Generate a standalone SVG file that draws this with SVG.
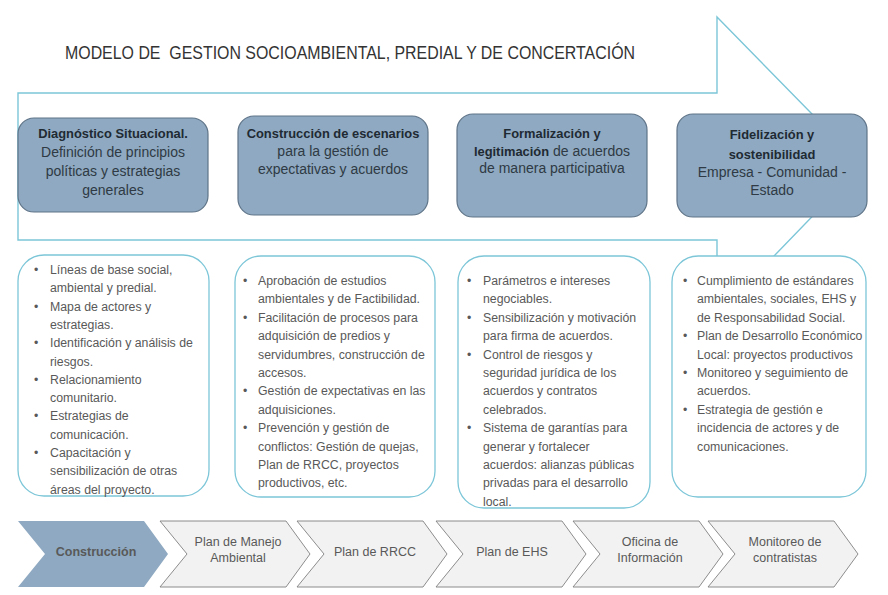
<svg xmlns="http://www.w3.org/2000/svg" width="888" height="595" viewBox="0 0 888 595">
<style>
  text { font-family: "Liberation Sans", Arial, sans-serif; }
  .title { font-size: 18px; fill: #333333; white-space: pre; }
  .phase { fill: #8ea9c1; stroke: #5f7488; stroke-width: 1.2; }
  .ph { font-size: 14px; fill: #2f3a44; text-anchor: middle; }
  .phb { font-size: 12.9px; font-weight: bold; fill: #1f2a33; text-anchor: middle; }
  .detail { fill: #ffffff; stroke: #7cc6d8; stroke-width: 1.3; }
  .dt { font-size: 12.3px; fill: #595959; }
  .chev { fill: #f2f2f2; stroke: #808080; stroke-width: 0.9; }
  .chev-on { fill: #8ea9c1; stroke: none; }
  .ct { font-size: 12.5px; fill: #595959; text-anchor: middle; }
  .outline { fill: #ffffff; stroke: #7cc6d8; stroke-width: 1.4; }
</style>

<rect x="0" y="0" width="888" height="595" fill="#ffffff"/>

<g id="connectors">
  <path class="outline" d="M18,93 H717 V17 L862,165 L717,315 V240 H18 Z"/>
</g>

<text class="title" x="65" y="59" xml:space="preserve" textLength="570" lengthAdjust="spacingAndGlyphs">MODELO DE  GESTION SOCIOAMBIENTAL, PREDIAL Y DE CONCERTACIÓN</text>

<g id="phase1">
  <rect class="phase" x="18" y="118" width="190" height="94" rx="16"/>
  <text class="phb" x="113" y="138">Diagnóstico Situacional.</text>
  <text class="ph" x="113" y="157">Definición de principios</text>
  <text class="ph" x="113" y="176">políticas y estrategias</text>
  <text class="ph" x="113" y="195">generales</text>
</g>
<g id="phase2">
  <rect class="phase" x="238" y="116" width="190" height="99" rx="16"/>
  <text class="phb" x="333" y="138">Construcción de escenarios</text>
  <text class="ph" x="333" y="156">para la gestión de</text>
  <text class="ph" x="333" y="174">expectativas y acuerdos</text>
</g>
<g id="phase3">
  <rect class="phase" x="457" y="114" width="190" height="103" rx="16"/>
  <text class="phb" x="552" y="138">Formalización y</text>
  <text class="ph" x="552" y="156"><tspan font-weight="bold" font-size="12.9px" fill="#1f2a33">legitimación</tspan> de acuerdos</text>
  <text class="ph" x="552" y="173">de manera participativa</text>
</g>
<g id="phase4">
  <rect class="phase" x="677" y="114" width="190" height="103" rx="16"/>
  <text class="phb" x="772" y="139">Fidelización y</text>
  <text class="phb" x="772" y="159">sostenibilidad</text>
  <text class="ph" x="772" y="177">Empresa - Comunidad -</text>
  <text class="ph" x="772" y="195">Estado</text>
</g>

<g id="detail1">
  <rect class="detail" x="18" y="255" width="191" height="241" rx="26"/>
  <g class="dt">
    <text x="34" y="274">•</text><text x="50" y="274">Líneas de base social,</text>
    <text x="50" y="292.3">ambiental y predial.</text>
    <text x="34" y="310.6">•</text><text x="50" y="310.6">Mapa de actores y</text>
    <text x="50" y="328.9">estrategias.</text>
    <text x="34" y="347.2">•</text><text x="50" y="347.2">Identificación y análisis de</text>
    <text x="50" y="365.5">riesgos.</text>
    <text x="34" y="383.8">•</text><text x="50" y="383.8">Relacionamiento</text>
    <text x="50" y="402.1">comunitario.</text>
    <text x="34" y="420.4">•</text><text x="50" y="420.4">Estrategias de</text>
    <text x="50" y="438.7">comunicación.</text>
    <text x="34" y="457">•</text><text x="50" y="457">Capacitación y</text>
    <text x="50" y="475.3">sensibilización de otras</text>
    <text x="50" y="493.6">áreas del proyecto.</text>
  </g>
</g>
<g id="detail2">
  <rect class="detail" x="235" y="256" width="200" height="241" rx="26"/>
  <g class="dt">
    <text x="243" y="285">•</text><text x="258" y="285">Aprobación de estudios</text>
    <text x="258" y="303.4">ambientales y de Factibilidad.</text>
    <text x="243" y="321.8">•</text><text x="258" y="321.8">Facilitación de procesos para</text>
    <text x="258" y="340.2">adquisición de predios y</text>
    <text x="258" y="358.6">servidumbres, construcción de</text>
    <text x="258" y="377">accesos.</text>
    <text x="243" y="395.4">•</text><text x="258" y="395.4">Gestión de expectativas en las</text>
    <text x="258" y="413.8">adquisiciones.</text>
    <text x="243" y="432.2">•</text><text x="258" y="432.2">Prevención y gestión de</text>
    <text x="258" y="450.6">conflictos: Gestión de quejas,</text>
    <text x="258" y="469">Plan de RRCC, proyectos</text>
    <text x="258" y="487.4">productivos, etc.</text>
  </g>
</g>
<g id="detail3">
  <rect class="detail" x="458" y="256" width="192" height="252" rx="26"/>
  <g class="dt">
    <text x="467" y="285">•</text><text x="483" y="285">Parámetros e intereses</text>
    <text x="483" y="303.4">negociables.</text>
    <text x="467" y="321.8">•</text><text x="483" y="321.8">Sensibilización y motivación</text>
    <text x="483" y="340.2">para firma de acuerdos.</text>
    <text x="467" y="358.6">•</text><text x="483" y="358.6">Control de riesgos y</text>
    <text x="483" y="377">seguridad jurídica de los</text>
    <text x="483" y="395.4">acuerdos y contratos</text>
    <text x="483" y="413.8">celebrados.</text>
    <text x="467" y="432.2">•</text><text x="483" y="432.2">Sistema de garantías para</text>
    <text x="483" y="450.6">generar y fortalecer</text>
    <text x="483" y="469">acuerdos: alianzas públicas</text>
    <text x="483" y="487.4">privadas para el desarrollo</text>
    <text x="483" y="505.8">local.</text>
  </g>
</g>
<g id="detail4">
  <rect class="detail" x="672" y="256" width="194" height="241" rx="26"/>
  <g class="dt">
    <text x="683" y="285">•</text><text x="697" y="285">Cumplimiento de estándares</text>
    <text x="697" y="303.4">ambientales, sociales, EHS y</text>
    <text x="697" y="321.8">de Responsabilidad Social.</text>
    <text x="683" y="340.2">•</text><text x="697" y="340.2">Plan de Desarrollo Económico</text>
    <text x="697" y="358.6">Local: proyectos productivos</text>
    <text x="683" y="377">•</text><text x="697" y="377">Monitoreo y seguimiento de</text>
    <text x="697" y="395.4">acuerdos.</text>
    <text x="683" y="413.8">•</text><text x="697" y="413.8">Estrategia de gestión e</text>
    <text x="697" y="432.2">incidencia de actores y de</text>
    <text x="697" y="450.6">comunicaciones.</text>
  </g>
</g>

<g id="step1">
  <polygon class="chev-on" points="18,521 144,521 168,554 144,587 18,587 45,554"/>
  <text class="ct" x="96" y="556" font-weight="bold" font-size="12px" fill="#3a4650">Construcción</text>
</g>
<g id="step2">
  <polygon class="chev" points="160,521 286,521 310,554 286,587 160,587 187,554"/>
  <text class="ct" x="238" y="546">Plan de Manejo</text>
  <text class="ct" x="238" y="562">Ambiental</text>
</g>
<g id="step3">
  <polygon class="chev" points="297,521 423,521 447,554 423,587 297,587 324,554"/>
  <text class="ct" x="375" y="556">Plan de RRCC</text>
</g>
<g id="step4">
  <polygon class="chev" points="436,521 562,521 586,554 562,587 436,587 463,554"/>
  <text class="ct" x="512" y="556">Plan de EHS</text>
</g>
<g id="step5">
  <polygon class="chev" points="573,521 699,521 723,554 699,587 573,587 600,554"/>
  <text class="ct" x="650" y="546">Oficina de</text>
  <text class="ct" x="650" y="562">Información</text>
</g>
<g id="step6">
  <polygon class="chev" points="708,521 834,521 858,554 834,587 708,587 735,554"/>
  <text class="ct" x="785" y="546">Monitoreo de</text>
  <text class="ct" x="785" y="562">contratistas</text>
</g>
</svg>
